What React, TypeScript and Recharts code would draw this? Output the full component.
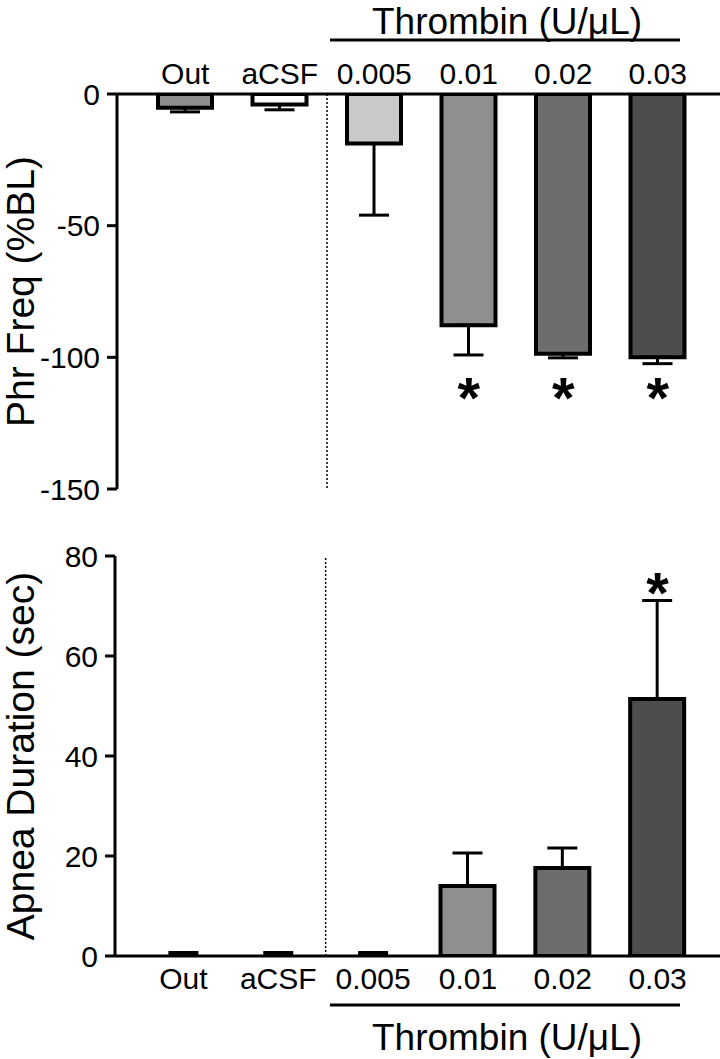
import {
  Bar,
  Cell,
  ComposedChart,
  ErrorBar,
  ReferenceLine,
  Scatter,
  XAxis,
  YAxis,
} from 'recharts';

const groups = ['Out', 'aCSF', '0.005', '0.01', '0.02', '0.03'];

// top panel: phrenic frequency, % change from baseline
const phrFreq = [-5.2, -4.0, -18.8, -87.8, -98.6, -100.0];
const phrFreqErr = [1.6, 2.0, 27.2, 11.3, 1.6, 2.4];
const phrFreqStar = [null, null, null, -111, -111, -111];
const phrTicks = [0, -50, -100, -150];

// bottom panel: apnea duration, sec
const apnea = [0, 0, 0, 14.0, 17.6, 51.4];
const apneaErr = [0, 0, 0, 6.6, 4.0, 19.7];
const apneaStar = [null, null, null, null, null, 75];
const apneaTicks = [0, 20, 40, 60, 80];

const fills = ['#8e8e8e', '#ffffff', '#c9c9c9', '#8f8f8f', '#6d6d6d', '#4d4d4d'];

const FONT = '"Liberation Sans", Arial, Helvetica, sans-serif';

const topData = groups.map((g, i) => ({
  name: g,
  value: phrFreq[i],
  err: [phrFreqErr[i], 0],
  star: phrFreqStar[i],
}));

const bottomData = groups.map((g, i) => ({
  name: g,
  value: apnea[i],
  err: [0, apneaErr[i]],
  star: apneaStar[i],
}));

const axisLine = { stroke: '#000', strokeWidth: 3 };
const tick = { fontSize: 30, fill: '#000', fontFamily: FONT };

function Star(props: any) {
  const { cx, cy, payload } = props;
  if (payload == null || payload.star == null || cx == null || cy == null) return <g />;
  return (
    <text
      x={cx}
      y={cy + 32}
      textAnchor="middle"
      fontSize={58}
      fontWeight="bold"
      fontFamily={FONT}
      fill="#000"
    >
      *
    </text>
  );
}

// a zero mean with zero SEM still shows its error cap as a short dash
function ZeroCap(props: any) {
  const { cx, cy, payload } = props;
  if (payload == null || payload.value !== 0 || cx == null || cy == null) return <g />;
  return <rect x={cx - 15} y={cy - 5} width={30} height={4} fill="#000" />;
}

function Panel({
  data,
  ticks,
  domain,
  title,
  top,
  height,
  yWidth,
  margin,
  xHeight,
  orientation,
}: any) {
  return (
    <div style={{ position: 'absolute', left: 0, top }}>
      <ComposedChart width={720} height={height} data={data} margin={margin}>
        <XAxis
          dataKey="name"
          orientation={orientation}
          height={xHeight}
          axisLine={axisLine}
          tickLine={false}
          tickSize={10}
          tickMargin={orientation === 'top' ? 0 : 2}
          tick={tick}
          padding={{ left: 21, right: 15 }}
          interval={0}
        />
        <YAxis
          width={yWidth}
          domain={domain}
          ticks={ticks}
          allowDataOverflow
          axisLine={axisLine}
          tickLine={axisLine}
          tickSize={10}
          tickMargin={7}
          tick={tick}
          label={{
            value: title,
            angle: -90,
            position: 'insideLeft',
            offset: 20,
            style: { textAnchor: 'middle', fontSize: 39, fill: '#000', fontFamily: FONT },
          }}
        />
        <ReferenceLine
          x="aCSF"
          position="end"
          stroke="#000"
          strokeWidth={1.5}
          strokeDasharray="2 2"
        />
        <Bar
          dataKey="value"
          barSize={54}
          stroke="#000"
          strokeWidth={4}
          isAnimationActive={false}
        >
          {data.map((_: any, i: number) => (
            <Cell key={i} fill={fills[i]} />
          ))}
          <ErrorBar dataKey="err" width={15} stroke="#000" strokeWidth={3} />
        </Bar>
        <Scatter dataKey="value" shape={ZeroCap} isAnimationActive={false} />
        <Scatter dataKey="star" shape={Star} isAnimationActive={false} />
      </ComposedChart>
    </div>
  );
}

export default function App() {
  return (
    <div
      style={{
        position: 'absolute',
        left: 0,
        top: 0,
        width: 720,
        height: 1059,
        background: '#fff',
        fontFamily: FONT,
      }}
    >
      <Panel
        data={topData}
        ticks={phrTicks}
        domain={[-150, 0]}
        title="Phr Freq (%BL)"
        top={0}
        height={520}
        yWidth={117}
        margin={{ top: 50, right: 0, bottom: 31, left: 0 }}
        xHeight={44}
        orientation="top"
      />
      <Panel
        data={bottomData}
        ticks={apneaTicks}
        domain={[0, 80]}
        title="Apnea Duration (sec)"
        top={520}
        height={480}
        yWidth={115}
        margin={{ top: 36, right: 0, bottom: 0, left: 0 }}
        xHeight={44}
        orientation="bottom"
      />
      <svg
        width={720}
        height={1059}
        style={{ position: 'absolute', left: 0, top: 0, pointerEvents: 'none' }}
      >
        <text x={507} y={34} textAnchor="middle" fontSize={37} fill="#000" fontFamily={FONT}>
          Thrombin (U/μL)
        </text>
        <line x1={330} x2={680} y1={40} y2={40} stroke="#000" strokeWidth={3} />
        <line x1={330} x2={680} y1={1005} y2={1005} stroke="#000" strokeWidth={3} />
        <text x={507} y={1050} textAnchor="middle" fontSize={37} fill="#000" fontFamily={FONT}>
          Thrombin (U/μL)
        </text>
      </svg>
    </div>
  );
}
